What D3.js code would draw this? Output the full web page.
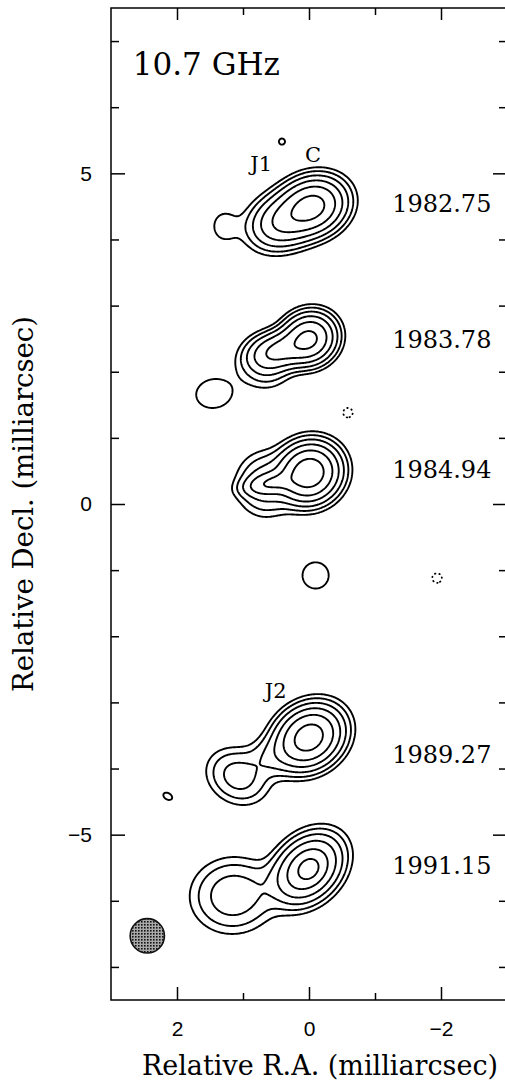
<!DOCTYPE html>
<html><head><meta charset="utf-8">
<script src="https://cdn.jsdelivr.net/npm/d3@7"></script>
<style>body{margin:0;background:#fff;overflow:hidden}</style>
</head><body>
<svg id="chart" width="505" height="1087"></svg>
<script>
// ---------------- data ----------------
const raDomain  = [3, -3];        // Relative R.A. (mas), east to the left
const decDomain = [-7.5, 7.5];    // Relative Decl. (mas)
const xMajorTicks = [2, 0, -2];
const xMinorTicks = [1, -1];
const yMajorTicks = [5, 0, -5];
const yMinorTicks = [7, 6, 4, 3, 2, 1, -1, -2, -3, -4, -6, -7];

const epochLabels   = ["1982.75", "1983.78", "1984.94", "1989.27", "1991.15"];
const epochLabelDec = [4.42, 2.36, 0.39, -3.92, -5.60];
const epochLabelRA  = -1.26;

const levels   = [2, 4, 8, 16, 32, 64];   // % of peak
const negLevel = [2];                      // negative contour (dotted)

// Gaussian model components (mas, % peak, sigma mas, PA deg)
const compName = ["82a","82b","J1","82spot","83a","83b","83c","83blob","84a","84b","84c","84blob","89a","J2","89c","89blob","91a","91d","91b","91c","neg1","neg2"];
const compRA   = [-0.05, 0.38, 1.28, 0.41,  0.00, 0.42, 0.65, 1.44,  0.00, 0.55, 0.66, -0.10,  0.00, 1.08, 0.55, 2.14,  0.02, 0.00, 1.15, 0.55,  -0.59, -1.94];
const compDec  = [ 4.50, 4.28, 4.20, 5.48,  2.50, 2.33, 2.15, 1.67,  0.47, 0.32, 0.30, -1.08, -3.53,-4.12,-3.82,-4.42, -5.52,-5.52,-5.92,-5.72,   1.38, -1.12];
const compFlux = [ 80,   35,   3.0,  2.5,   72,   36,   9,    3.0,  100,   22,   12,    3.0,   90,   11,   7,    2.4,   60,   35,   13,   1.5,  -2.6, -2.6];
const compMaj  = [ 0.26, 0.28, 0.20, 0.07,  0.21, 0.26, 0.22, 0.30,  0.24, 0.24, 0.26,  0.22,  0.27, 0.27, 0.25, 0.12,  0.30, 0.12, 0.34, 0.25,   0.10,  0.10];
const compMin  = [ 0.21, 0.21, 0.17, 0.07,  0.19, 0.15, 0.22, 0.24,  0.22, 0.09, 0.24,  0.22,  0.22, 0.22, 0.18, 0.08,  0.22, 0.10, 0.30, 0.20,   0.10,  0.10];
const compPA   = [ 112,  112,  0,    0,     120,  105,  0,    100,   120,  100,  0,     0,     125,  60,   110,  60,    135,  135,  95,   110,    0,     0];

const componentLabels = ["J1", "C", "J2"];
const componentLabelRA  = [0.89, 0.06, 0.67];
const componentLabelDec = [5.03, 5.17, -2.93];

const beamRA = 2.45, beamDec = -6.53, beamFWHM = 0.52;
const freqLabel = "10.7 GHz";

// ---------------- layout ----------------
const L = 111, R = 507, T = 8, B = 1000;
const svg = d3.select("#chart");
const x = d3.scaleLinear().domain(raDomain).range([L, R]);
const y = d3.scaleLinear().domain(decDomain).range([B, T]);

// ---------------- model grid ----------------
const nx = 400, ny = 1000;
const stepX = (raDomain[0] - raDomain[1]) / nx;
const stepY = (decDomain[1] - decDomain[0]) / ny;
const grid = new Float64Array(nx * ny);
for (let k = 0; k < compRA.length; k++) {
  const pa = compPA[k] * Math.PI / 180, s = Math.sin(pa), c = Math.cos(pa);
  const reach = 6 * compMaj[k];
  const i0 = Math.max(0, Math.floor((raDomain[0] - (compRA[k] + reach)) / stepX));
  const i1 = Math.min(nx - 1, Math.ceil((raDomain[0] - (compRA[k] - reach)) / stepX));
  const j0 = Math.max(0, Math.floor((decDomain[1] - (compDec[k] + reach)) / stepY));
  const j1 = Math.min(ny - 1, Math.ceil((decDomain[1] - (compDec[k] - reach)) / stepY));
  for (let j = j0; j <= j1; j++) {
    const v = decDomain[1] - (j + 0.5) * stepY - compDec[k];
    for (let i = i0; i <= i1; i++) {
      const u = raDomain[0] - (i + 0.5) * stepX - compRA[k];
      const a = u * s + v * c, b = u * c - v * s;
      grid[j * nx + i] += compFlux[k] * Math.exp(-0.5 * (a * a / (compMaj[k] * compMaj[k]) + b * b / (compMin[k] * compMin[k])));
    }
  }
}
const proj = d3.geoTransform({
  point(px, py) { this.stream.point(x(raDomain[0] - px * stepX), y(decDomain[1] - py * stepY)); }
});
const path = d3.geoPath(proj);

const pos = d3.contours().size([nx, ny]).thresholds(levels)(grid);
svg.append("g").selectAll("path").data(pos).join("path")
  .attr("d", path).attr("fill", "none").attr("stroke", "#000")
  .attr("stroke-width", 1.9).attr("stroke-linejoin", "round");

const neg = d3.contours().size([nx, ny]).thresholds(negLevel)(grid.map(v => -v));
svg.append("g").selectAll("path").data(neg).join("path")
  .attr("d", path).attr("fill", "none").attr("stroke", "#000")
  .attr("stroke-width", 1.8).attr("stroke-dasharray", "0.5,4").attr("stroke-linecap", "round");

// ---------------- beam ----------------
const defs = svg.append("defs");
const pat = defs.append("pattern").attr("id", "stip").attr("width", 3).attr("height", 3).attr("patternUnits", "userSpaceOnUse");
pat.append("rect").attr("width", 3).attr("height", 3).attr("fill", "#a8a8a8");
pat.append("rect").attr("width", 1.6).attr("height", 1.6).attr("fill", "#111");
svg.append("ellipse")
  .attr("cx", x(beamRA)).attr("cy", y(beamDec))
  .attr("rx", x(0) - x(beamFWHM / 2)).attr("ry", y(0) - y(beamFWHM / 2))
  .attr("fill", "url(#stip)").attr("stroke", "#111").attr("stroke-width", 1.6);

// ---------------- axes ----------------
const tickFont = "'Liberation Sans', Arial, sans-serif";
const serif = "'DejaVu Serif', serif";
const fmt = d3.format("d");
function styleAxis(g) {
  g.select(".domain").remove();
  g.selectAll(".tick line").attr("stroke", "#000").attr("stroke-width", 1.5);
  g.selectAll(".tick text").attr("font-family", tickFont).attr("font-size", 21).attr("fill", "#000");
}
svg.append("g").attr("transform", `translate(${L},0)`)
  .call(d3.axisLeft(y).tickValues(yMajorTicks).tickFormat(fmt).tickSizeInner(-14).tickSizeOuter(0).tickPadding(19)).call(styleAxis);
svg.append("g").attr("transform", `translate(${L},0)`)
  .call(d3.axisLeft(y).tickValues(yMinorTicks).tickSizeInner(-8).tickSizeOuter(0).tickFormat("")).call(styleAxis);
svg.append("g").attr("transform", `translate(${R},0)`)
  .call(d3.axisRight(y).tickValues(yMajorTicks).tickSizeInner(-14).tickSizeOuter(0).tickFormat("")).call(styleAxis);
svg.append("g").attr("transform", `translate(${R},0)`)
  .call(d3.axisRight(y).tickValues(yMinorTicks).tickSizeInner(-8).tickSizeOuter(0).tickFormat("")).call(styleAxis);
svg.append("g").attr("transform", `translate(0,${B})`)
  .call(d3.axisBottom(x).tickValues(xMajorTicks).tickFormat(fmt).tickSizeInner(-13).tickSizeOuter(0).tickPadding(21)).call(styleAxis);
svg.append("g").attr("transform", `translate(0,${B})`)
  .call(d3.axisBottom(x).tickValues(xMinorTicks).tickSizeInner(-7).tickSizeOuter(0).tickFormat("")).call(styleAxis);
svg.append("g").attr("transform", `translate(0,${T})`)
  .call(d3.axisTop(x).tickValues(xMajorTicks).tickSizeInner(-12).tickSizeOuter(0).tickFormat("")).call(styleAxis);
svg.append("g").attr("transform", `translate(0,${T})`)
  .call(d3.axisTop(x).tickValues(xMinorTicks).tickSizeInner(-7).tickSizeOuter(0).tickFormat("")).call(styleAxis);

svg.append("rect").attr("x", L).attr("y", T).attr("width", R - L).attr("height", B - T)
  .attr("fill", "none").attr("stroke", "#000").attr("stroke-width", 1.5);

// ---------------- text ----------------
svg.append("text").attr("x", 320).attr("y", 1075).attr("text-anchor", "middle")
  .attr("font-family", serif).attr("font-size", 27).text("Relative R.A. (milliarcsec)");
svg.append("text").attr("transform", `translate(33,${(T + B) / 2}) rotate(-90)`).attr("text-anchor", "middle")
  .attr("font-family", serif).attr("font-size", 27.5).text("Relative Decl. (milliarcsec)");
svg.append("text").attr("x", x(2.67)).attr("y", y(6.48))
  .attr("font-family", serif).attr("font-size", 31).text(freqLabel);

svg.append("g").selectAll("text").data(epochLabels).join("text")
  .attr("x", x(epochLabelRA)).attr("y", (d, i) => y(epochLabelDec[i]))
  .attr("font-family", serif).attr("font-size", 24).text(d => d);

svg.append("g").selectAll("text").data(componentLabels).join("text")
  .attr("x", (d, i) => x(componentLabelRA[i])).attr("y", (d, i) => y(componentLabelDec[i]))
  .attr("font-family", serif).attr("font-size", 21).text(d => d);
</script>
</body></html>
